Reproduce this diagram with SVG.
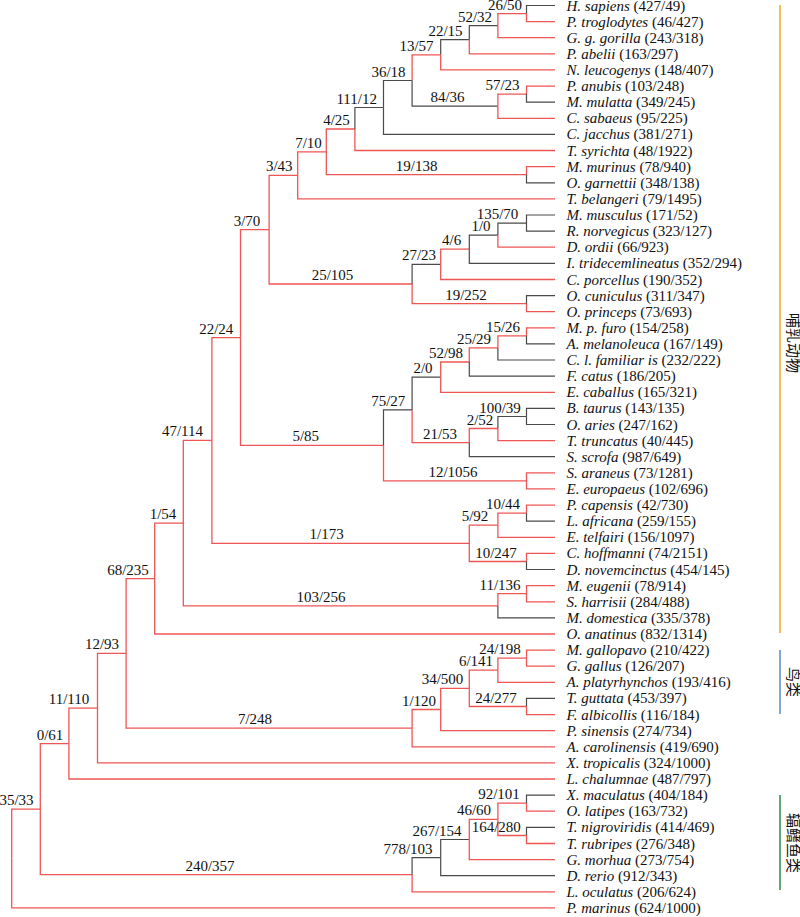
<svg xmlns="http://www.w3.org/2000/svg" width="800" height="917" viewBox="0 0 800 917">
<style>
.r{stroke:#ef5555;stroke-width:1.3;fill:none}
.k{stroke:#4a4a4a;stroke-width:1.2;fill:none}
text{font-family:"Liberation Serif","Times New Roman",serif;font-size:15px;fill:#111}
.lb{text-anchor:middle}
.i{font-style:italic}
.cjk{font-family:"Noto Sans CJK SC",sans-serif;font-size:15px;text-anchor:middle}
</style>
<rect width="800" height="917" fill="#fff"/>
<g id="connectors">
<path class="r" d="M11.7 858.5V809.1H40.3"/>
<path class="r" d="M11.7 858.5V907.9H555"/>
<path class="r" d="M40.3 809.1V743.6H68.9"/>
<path class="r" d="M40.3 809.1V874.7H412.1"/>
<path class="r" d="M68.9 743.6V708.1H97.5"/>
<path class="r" d="M68.9 743.6V779H555"/>
<path class="r" d="M97.5 708.1V653.4H126.1"/>
<path class="r" d="M97.5 708.1V762.9H555"/>
<path class="r" d="M126.1 653.4V578.6H154.7"/>
<path class="r" d="M126.1 653.4V728.2H412.1"/>
<path class="r" d="M154.7 578.6V523.1H183.3"/>
<path class="r" d="M154.7 578.6V634H555"/>
<path class="r" d="M183.3 523.1V440.4H211.9"/>
<path class="r" d="M183.3 523.1V605.8H497.9"/>
<path class="r" d="M211.9 440.4V337.6H240.5"/>
<path class="r" d="M211.9 440.4V543.3H469.3"/>
<path class="r" d="M240.5 337.6V229.7H269.1"/>
<path class="r" d="M240.5 337.6V445.4H383.5"/>
<path class="r" d="M269.1 229.7V175.4H297.7"/>
<path class="r" d="M269.1 229.7V284H412.1"/>
<path class="r" d="M297.7 175.4V151.9H326.3"/>
<path class="r" d="M297.7 175.4V198.9H555"/>
<path class="r" d="M326.3 151.9V129H354.9"/>
<path class="r" d="M326.3 151.9V174.7H526.5"/>
<path class="k" d="M354.9 129V107.5H383.5"/>
<path class="r" d="M354.9 129V150.5H555"/>
<path class="k" d="M383.5 107.5V80.5H412.1"/>
<path class="k" d="M383.5 107.5V134.4H555"/>
<path class="r" d="M412.1 80.5V54.8H440.7"/>
<path class="k" d="M412.1 80.5V106.2H497.9"/>
<path class="k" d="M440.7 54.8V39.7H469.3"/>
<path class="r" d="M440.7 54.8V69.9H555"/>
<path class="k" d="M469.3 39.7V25.6H497.9"/>
<path class="r" d="M469.3 39.7V53.8H555"/>
<path class="r" d="M497.9 25.6V13.6H526.5"/>
<path class="r" d="M497.9 25.6V37.7H555"/>
<path class="k" d="M526.5 13.6V5.5H555"/>
<path class="r" d="M526.5 13.6V21.6H555"/>
<path class="r" d="M497.9 106.2V94.1H526.5"/>
<path class="r" d="M497.9 106.2V118.3H555"/>
<path class="r" d="M526.5 94.1V86.1H555"/>
<path class="k" d="M526.5 94.1V102.2H555"/>
<path class="r" d="M526.5 174.7V166.7H555"/>
<path class="k" d="M526.5 174.7V182.8H555"/>
<path class="k" d="M412.1 284V264.4H440.7"/>
<path class="r" d="M412.1 284V303.7H526.5"/>
<path class="r" d="M440.7 264.4V249.2H469.3"/>
<path class="r" d="M440.7 264.4V279.5H555"/>
<path class="k" d="M469.3 249.2V235.1H497.9"/>
<path class="k" d="M469.3 249.2V263.3H555"/>
<path class="k" d="M497.9 235.1V223.1H526.5"/>
<path class="r" d="M497.9 235.1V247.2H555"/>
<path class="k" d="M526.5 223.1V215H555"/>
<path class="k" d="M526.5 223.1V231.1H555"/>
<path class="k" d="M526.5 303.7V295.6H555"/>
<path class="r" d="M526.5 303.7V311.7H555"/>
<path class="k" d="M383.5 445.4V409.9H412.1"/>
<path class="r" d="M383.5 445.4V480.9H526.5"/>
<path class="k" d="M412.1 409.9V377.2H440.7"/>
<path class="r" d="M412.1 409.9V442.6H469.3"/>
<path class="r" d="M440.7 377.2V362H469.3"/>
<path class="r" d="M440.7 377.2V392.3H555"/>
<path class="r" d="M469.3 362V347.9H497.9"/>
<path class="k" d="M469.3 362V376.1H555"/>
<path class="r" d="M497.9 347.9V335.9H526.5"/>
<path class="k" d="M497.9 347.9V360H555"/>
<path class="r" d="M526.5 335.9V327.8H555"/>
<path class="k" d="M526.5 335.9V343.9H555"/>
<path class="r" d="M469.3 442.6V428.5H497.9"/>
<path class="k" d="M469.3 442.6V456.7H555"/>
<path class="k" d="M497.9 428.5V416.5H526.5"/>
<path class="r" d="M497.9 428.5V440.6H555"/>
<path class="k" d="M526.5 416.5V408.4H555"/>
<path class="k" d="M526.5 416.5V424.5H555"/>
<path class="r" d="M526.5 480.9V472.8H555"/>
<path class="r" d="M526.5 480.9V488.9H555"/>
<path class="r" d="M469.3 543.3V525.2H497.9"/>
<path class="r" d="M469.3 543.3V561.5H526.5"/>
<path class="r" d="M497.9 525.2V513.2H526.5"/>
<path class="r" d="M497.9 525.2V537.3H555"/>
<path class="r" d="M526.5 513.2V505.1H555"/>
<path class="k" d="M526.5 513.2V521.2H555"/>
<path class="r" d="M526.5 561.5V553.4H555"/>
<path class="k" d="M526.5 561.5V569.5H555"/>
<path class="r" d="M497.9 605.8V593.7H526.5"/>
<path class="k" d="M497.9 605.8V617.9H555"/>
<path class="r" d="M526.5 593.7V585.6H555"/>
<path class="r" d="M526.5 593.7V601.8H555"/>
<path class="r" d="M412.1 728.2V709.5H440.7"/>
<path class="r" d="M412.1 728.2V746.8H555"/>
<path class="r" d="M440.7 709.5V688.4H469.3"/>
<path class="r" d="M440.7 709.5V730.7H555"/>
<path class="r" d="M469.3 688.4V670.2H497.9"/>
<path class="r" d="M469.3 688.4V706.5H526.5"/>
<path class="r" d="M497.9 670.2V658.2H526.5"/>
<path class="r" d="M497.9 670.2V682.3H555"/>
<path class="r" d="M526.5 658.2V650.1H555"/>
<path class="r" d="M526.5 658.2V666.2H555"/>
<path class="k" d="M526.5 706.5V698.4H555"/>
<path class="r" d="M526.5 706.5V714.6H555"/>
<path class="k" d="M412.1 874.7V857.6H440.7"/>
<path class="r" d="M412.1 874.7V891.8H555"/>
<path class="k" d="M440.7 857.6V839.5H469.3"/>
<path class="k" d="M440.7 857.6V875.7H555"/>
<path class="r" d="M469.3 839.5V819.3H497.9"/>
<path class="r" d="M469.3 839.5V859.6H555"/>
<path class="r" d="M497.9 819.3V803.2H526.5"/>
<path class="r" d="M497.9 819.3V835.5H526.5"/>
<path class="k" d="M526.5 803.2V795.1H555"/>
<path class="r" d="M526.5 803.2V811.2H555"/>
<path class="k" d="M526.5 835.5V827.4H555"/>
<path class="r" d="M526.5 835.5V843.5H555"/>
</g>
<g id="internal-labels">
<g id="n-35-33"><text class="lb" x="16.5" y="805.1">35/33</text></g>
<g id="n-0-61"><text class="lb" x="50" y="739.6">0/61</text></g>
<g id="n-11-110"><text class="lb" x="69" y="704.1">11/110</text></g>
<g id="n-12-93"><text class="lb" x="102" y="649.4">12/93</text></g>
<g id="n-68-235"><text class="lb" x="128" y="574.6">68/235</text></g>
<g id="n-1-54"><text class="lb" x="163" y="519.1">1/54</text></g>
<g id="n-47-114"><text class="lb" x="182.5" y="436.4">47/114</text></g>
<g id="n-22-24"><text class="lb" x="216.3" y="333.6">22/24</text></g>
<g id="n-3-70"><text class="lb" x="247" y="225.7">3/70</text></g>
<g id="n-3-43"><text class="lb" x="279.3" y="171.4">3/43</text></g>
<g id="n-7-10"><text class="lb" x="308.5" y="147.9">7/10</text></g>
<g id="n-4-25"><text class="lb" x="336.5" y="125">4/25</text></g>
<g id="n-111-12"><text class="lb" x="356.7" y="103.5">111/12</text></g>
<g id="n-36-18"><text class="lb" x="388.5" y="76.5">36/18</text></g>
<g id="n-13-57"><text class="lb" x="416.5" y="50.8">13/57</text></g>
<g id="n-22-15"><text class="lb" x="445.5" y="35.7">22/15</text></g>
<g id="n-52-32"><text class="lb" x="475" y="21.6">52/32</text></g>
<g id="n-26-50"><text class="lb" x="505" y="9.6">26/50</text></g>
<g id="n-84-36"><text class="lb" x="447.5" y="102.2">84/36</text></g>
<g id="n-57-23"><text class="lb" x="502.5" y="90.1">57/23</text></g>
<g id="n-19-138"><text class="lb" x="416.7" y="170.7">19/138</text></g>
<g id="n-25-105"><text class="lb" x="332.5" y="280">25/105</text></g>
<g id="n-27-23"><text class="lb" x="419" y="260.4">27/23</text></g>
<g id="n-19-252"><text class="lb" x="466" y="299.7">19/252</text></g>
<g id="n-4-6"><text class="lb" x="451.7" y="245.2">4/6</text></g>
<g id="n-1-0"><text class="lb" x="481" y="231.1">1/0</text></g>
<g id="n-135-70"><text class="lb" x="497.5" y="219.1">135/70</text></g>
<g id="n-5-85"><text class="lb" x="305.8" y="441.4">5/85</text></g>
<g id="n-75-27"><text class="lb" x="388.3" y="405.9">75/27</text></g>
<g id="n-12-1056"><text class="lb" x="453" y="476.9">12/1056</text></g>
<g id="n-2-0"><text class="lb" x="423" y="373.2">2/0</text></g>
<g id="n-52-98"><text class="lb" x="446" y="358">52/98</text></g>
<g id="n-25-29"><text class="lb" x="474" y="343.9">25/29</text></g>
<g id="n-15-26"><text class="lb" x="503" y="331.9">15/26</text></g>
<g id="n-21-53"><text class="lb" x="440" y="438.6">21/53</text></g>
<g id="n-2-52"><text class="lb" x="480" y="424.5">2/52</text></g>
<g id="n-100-39"><text class="lb" x="500" y="412.5">100/39</text></g>
<g id="n-1-173"><text class="lb" x="326.7" y="539.3">1/173</text></g>
<g id="n-5-92"><text class="lb" x="475" y="521.2">5/92</text></g>
<g id="n-10-44"><text class="lb" x="503" y="509.2">10/44</text></g>
<g id="n-10-247"><text class="lb" x="496" y="557.5">10/247</text></g>
<g id="n-103-256"><text class="lb" x="321" y="601.8">103/256</text></g>
<g id="n-11-136"><text class="lb" x="500" y="589.7">11/136</text></g>
<g id="n-7-248"><text class="lb" x="255" y="724.2">7/248</text></g>
<g id="n-1-120"><text class="lb" x="419" y="705.5">1/120</text></g>
<g id="n-34-500"><text class="lb" x="442.5" y="684.4">34/500</text></g>
<g id="n-6-141"><text class="lb" x="476" y="666.2">6/141</text></g>
<g id="n-24-198"><text class="lb" x="500" y="654.2">24/198</text></g>
<g id="n-24-277"><text class="lb" x="496" y="702.5">24/277</text></g>
<g id="n-240-357"><text class="lb" x="210" y="870.7">240/357</text></g>
<g id="n-778-103"><text class="lb" x="408" y="853.6">778/103</text></g>
<g id="n-267-154"><text class="lb" x="437" y="835.5">267/154</text></g>
<g id="n-46-60"><text class="lb" x="474" y="815.3">46/60</text></g>
<g id="n-92-101"><text class="lb" x="499" y="799.2">92/101</text></g>
<g id="n-164-280"><text class="lb" x="496.3" y="831.5">164/280</text></g>
</g>
<g id="leaves">
<g id="leaf-0"><text x="566.5" y="10.5"><tspan class="i">H. sapiens</tspan> (427/49)</text></g>
<g id="leaf-1"><text x="566.5" y="26.6"><tspan class="i">P. troglodytes</tspan> (46/427)</text></g>
<g id="leaf-2"><text x="566.5" y="42.7"><tspan class="i">G. g. gorilla</tspan> (243/318)</text></g>
<g id="leaf-3"><text x="566.5" y="58.8"><tspan class="i">P. abelii</tspan> (163/297)</text></g>
<g id="leaf-4"><text x="566.5" y="74.9"><tspan class="i">N. leucogenys</tspan> (148/407)</text></g>
<g id="leaf-5"><text x="566.5" y="91.1"><tspan class="i">P. anubis</tspan> (103/248)</text></g>
<g id="leaf-6"><text x="566.5" y="107.2"><tspan class="i">M. mulatta</tspan> (349/245)</text></g>
<g id="leaf-7"><text x="566.5" y="123.3"><tspan class="i">C. sabaeus</tspan> (95/225)</text></g>
<g id="leaf-8"><text x="566.5" y="139.4"><tspan class="i">C. jacchus</tspan> (381/271)</text></g>
<g id="leaf-9"><text x="566.5" y="155.5"><tspan class="i">T. syrichta</tspan> (48/1922)</text></g>
<g id="leaf-10"><text x="566.5" y="171.7"><tspan class="i">M. murinus</tspan> (78/940)</text></g>
<g id="leaf-11"><text x="566.5" y="187.8"><tspan class="i">O. garnettii</tspan> (348/138)</text></g>
<g id="leaf-12"><text x="566.5" y="203.9"><tspan class="i">T. belangeri</tspan> (79/1495)</text></g>
<g id="leaf-13"><text x="566.5" y="220"><tspan class="i">M. musculus</tspan> (171/52)</text></g>
<g id="leaf-14"><text x="566.5" y="236.1"><tspan class="i">R. norvegicus</tspan> (323/127)</text></g>
<g id="leaf-15"><text x="566.5" y="252.2"><tspan class="i">D. ordii</tspan> (66/923)</text></g>
<g id="leaf-16"><text x="566.5" y="268.3"><tspan class="i">I. tridecemlineatus</tspan> (352/294)</text></g>
<g id="leaf-17"><text x="566.5" y="284.5"><tspan class="i">C. porcellus</tspan> (190/352)</text></g>
<g id="leaf-18"><text x="566.5" y="300.6"><tspan class="i">O. cuniculus</tspan> (311/347)</text></g>
<g id="leaf-19"><text x="566.5" y="316.7"><tspan class="i">O. princeps</tspan> (73/693)</text></g>
<g id="leaf-20"><text x="566.5" y="332.8"><tspan class="i">M. p. furo</tspan> (154/258)</text></g>
<g id="leaf-21"><text x="566.5" y="348.9"><tspan class="i">A. melanoleuca</tspan> (167/149)</text></g>
<g id="leaf-22"><text x="566.5" y="365"><tspan class="i">C. l. familiar is</tspan> (232/222)</text></g>
<g id="leaf-23"><text x="566.5" y="381.1"><tspan class="i">F. catus</tspan> (186/205)</text></g>
<g id="leaf-24"><text x="566.5" y="397.3"><tspan class="i">E. caballus</tspan> (165/321)</text></g>
<g id="leaf-25"><text x="566.5" y="413.4"><tspan class="i">B. taurus</tspan> (143/135)</text></g>
<g id="leaf-26"><text x="566.5" y="429.5"><tspan class="i">O. aries</tspan> (247/162)</text></g>
<g id="leaf-27"><text x="566.5" y="445.6"><tspan class="i">T. truncatus</tspan> (40/445)</text></g>
<g id="leaf-28"><text x="566.5" y="461.7"><tspan class="i">S. scrofa</tspan> (987/649)</text></g>
<g id="leaf-29"><text x="566.5" y="477.8"><tspan class="i">S. araneus</tspan> (73/1281)</text></g>
<g id="leaf-30"><text x="566.5" y="493.9"><tspan class="i">E. europaeus</tspan> (102/696)</text></g>
<g id="leaf-31"><text x="566.5" y="510.1"><tspan class="i">P. capensis</tspan> (42/730)</text></g>
<g id="leaf-32"><text x="566.5" y="526.2"><tspan class="i">L. africana</tspan> (259/155)</text></g>
<g id="leaf-33"><text x="566.5" y="542.3"><tspan class="i">E. telfairi</tspan> (156/1097)</text></g>
<g id="leaf-34"><text x="566.5" y="558.4"><tspan class="i">C. hoffmanni</tspan> (74/2151)</text></g>
<g id="leaf-35"><text x="566.5" y="574.5"><tspan class="i">D. novemcinctus</tspan> (454/145)</text></g>
<g id="leaf-36"><text x="566.5" y="590.6"><tspan class="i">M. eugenii</tspan> (78/914)</text></g>
<g id="leaf-37"><text x="566.5" y="606.8"><tspan class="i">S. harrisii</tspan> (284/488)</text></g>
<g id="leaf-38"><text x="566.5" y="622.9"><tspan class="i">M. domestica</tspan> (335/378)</text></g>
<g id="leaf-39"><text x="566.5" y="639"><tspan class="i">O. anatinus</tspan> (832/1314)</text></g>
<g id="leaf-40"><text x="566.5" y="655.1"><tspan class="i">M. gallopavo</tspan> (210/422)</text></g>
<g id="leaf-41"><text x="566.5" y="671.2"><tspan class="i">G. gallus</tspan> (126/207)</text></g>
<g id="leaf-42"><text x="566.5" y="687.3"><tspan class="i">A. platyrhynchos</tspan> (193/416)</text></g>
<g id="leaf-43"><text x="566.5" y="703.4"><tspan class="i">T. guttata</tspan> (453/397)</text></g>
<g id="leaf-44"><text x="566.5" y="719.6"><tspan class="i">F. albicollis</tspan> (116/184)</text></g>
<g id="leaf-45"><text x="566.5" y="735.7"><tspan class="i">P. sinensis</tspan> (274/734)</text></g>
<g id="leaf-46"><text x="566.5" y="751.8"><tspan class="i">A. carolinensis</tspan> (419/690)</text></g>
<g id="leaf-47"><text x="566.5" y="767.9"><tspan class="i">X. tropicalis</tspan> (324/1000)</text></g>
<g id="leaf-48"><text x="566.5" y="784"><tspan class="i">L. chalumnae</tspan> (487/797)</text></g>
<g id="leaf-49"><text x="566.5" y="800.1"><tspan class="i">X. maculatus</tspan> (404/184)</text></g>
<g id="leaf-50"><text x="566.5" y="816.2"><tspan class="i">O. latipes</tspan> (163/732)</text></g>
<g id="leaf-51"><text x="566.5" y="832.4"><tspan class="i">T. nigroviridis</tspan> (414/469)</text></g>
<g id="leaf-52"><text x="566.5" y="848.5"><tspan class="i">T. rubripes</tspan> (276/348)</text></g>
<g id="leaf-53"><text x="566.5" y="864.6"><tspan class="i">G. morhua</tspan> (273/754)</text></g>
<g id="leaf-54"><text x="566.5" y="880.7"><tspan class="i">D. rerio</tspan> (912/343)</text></g>
<g id="leaf-55"><text x="566.5" y="896.8"><tspan class="i">L. oculatus</tspan> (206/624)</text></g>
<g id="leaf-56"><text x="566.5" y="912.9"><tspan class="i">P. marinus</tspan> (624/1000)</text></g>
</g>
<g id="group-mammals">
<line x1="780" y1="5" x2="780" y2="633" stroke="#f5a623" stroke-width="1.5"/>
<text class="cjk" transform="translate(788,343) rotate(90)" fill="#f5a623">哺乳动物</text>
</g>
<g id="group-birds">
<line x1="780" y1="650" x2="780" y2="714" stroke="#5a8ac6" stroke-width="1.5"/>
<text class="cjk" transform="translate(788,682) rotate(90)" fill="#5a8ac6">鸟类</text>
</g>
<g id="group-fish">
<line x1="780" y1="795" x2="780" y2="890" stroke="#2e8b46" stroke-width="1.5"/>
<text class="cjk" transform="translate(788,843) rotate(90)" fill="#2e8b46">辐鳍鱼类</text>
</g>
</svg>
